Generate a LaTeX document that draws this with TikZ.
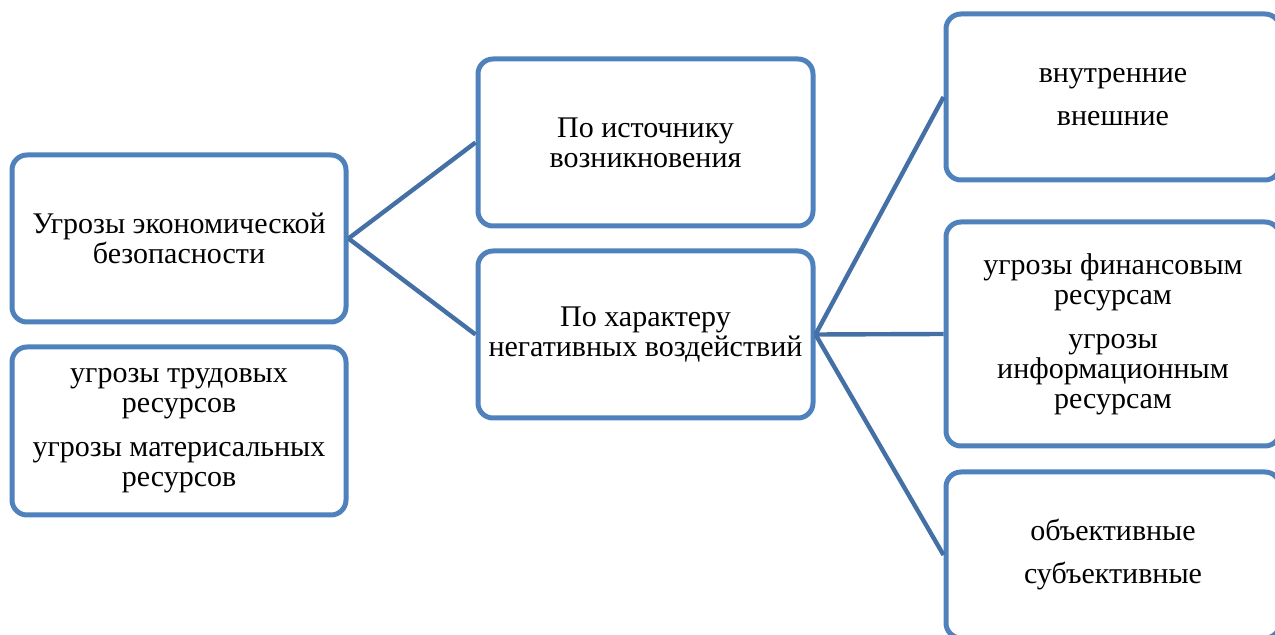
\documentclass[tikz,border=0pt]{standalone}
\usepackage{fontspec}
\setmainfont{Liberation Serif}
\usepackage{tikz}
\definecolor{boxblue}{RGB}{79,129,189}
\definecolor{linkblue}{RGB}{69,112,166}
\tikzset{%
  threat box/.style={
    draw=boxblue,
    fill=white,
    line width=2.5pt,
    rounded corners=7.5pt,
    align=center,
    font=\fontsize{15}{15}\selectfont,
    inner sep=0pt
  },
  threat link/.style={
    draw=linkblue,
    line width=2.2pt
  },
}

\begin{document}
\begin{tikzpicture}[x=0.5pt, y=-0.5pt]

\useasboundingbox (0,0) rectangle (1275,635);
\clip (0,0) rectangle (1275,635);

\node [threat box, minimum width=167pt, minimum height=83.5pt] (thr) at (179,238.5)
  {Угрозы экономической\\безопасности};
\node [threat box, minimum width=167pt, minimum height=84pt] (res) at (179,431)
  {угрозы трудовых\\ресурсов\\[7pt]угрозы материсальных\\ресурсов};

\node [threat box, minimum width=167.5pt, minimum height=83.5pt] (src) at (645.5,142.5)
  {По источнику\\возникновения};
\node [threat box, minimum width=167.5pt, minimum height=83.5pt] (neg) at (645.5,334.5)
  {По характеру\\негативных воздействий};

\node [threat box, minimum width=167pt, minimum height=83pt] (ins) at (1113,97)
  {внутренние\\[6.5pt]внешние};
\node [threat box, minimum width=167pt, minimum height=112pt] (fin) at (1113,334)
  {угрозы финансовым\\ресурсам\\[7pt]угрозы\\информационным\\ресурсам};
\node [threat box, minimum width=167pt, minimum height=83pt] (obj) at (1113,555)
  {объективные\\[6.5pt]субъективные};

\foreach \t in {src,neg}
  \draw [threat link] (thr.east) -- (\t.west);

\foreach \t in {ins,fin,obj}
  \draw [threat link] (neg.east) -- (\t.west);

\end{tikzpicture}
\end{document}
